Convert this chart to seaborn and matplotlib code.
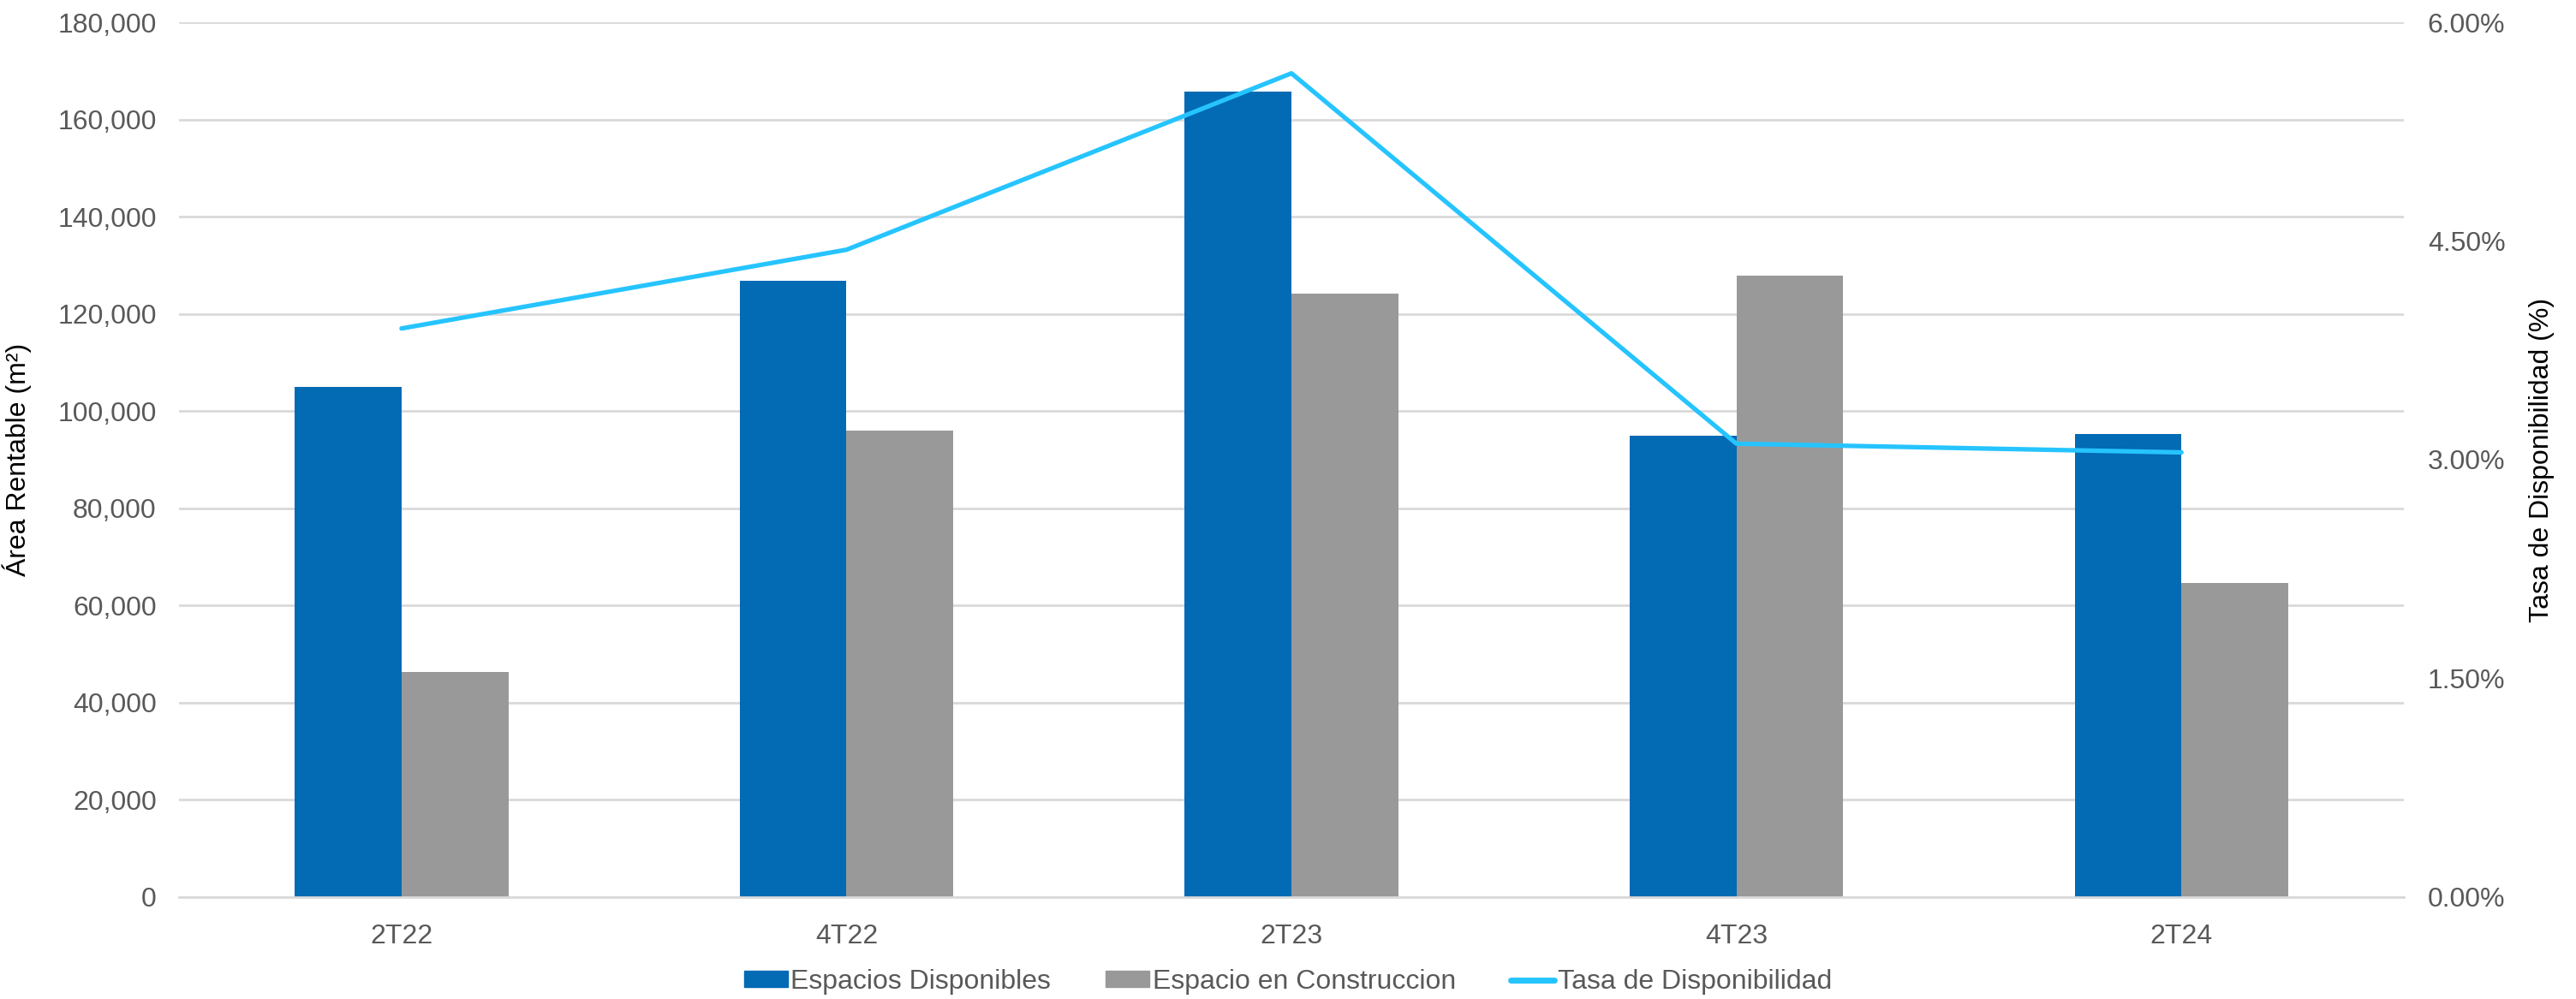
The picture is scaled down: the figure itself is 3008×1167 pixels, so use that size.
import numpy as np
import pandas as pd
import seaborn as sns
import matplotlib.pyplot as plt
from matplotlib.ticker import FuncFormatter
from matplotlib.lines import Line2D
from matplotlib.patches import Patch

# ===============================
# DATA
# ===============================
periods = ["2T22", "4T22", "2T23", "4T23", "2T24"]
disponibles = [105000, 126800, 165800, 94900, 95300]
construccion = [46300, 96000, 124100, 127900, 64600]
tasa = [3.90, 4.44, 5.65, 3.11, 3.05]  # %

series_names = ["Espacios Disponibles", "Espacio en Construccion"]
line_name = "Tasa de Disponibilidad"

df = pd.DataFrame({
    "periodo": periods * 2,
    "serie": [series_names[0]] * len(periods) + [series_names[1]] * len(periods),
    "area": disponibles + construccion,
})

blue = "#036AB4"
gray = "#999999"
cyan = "#26C4FF"
text_gray = "#595959"

# ===============================
# PLOT
# ===============================
sns.set_style("white")
plt.rcParams["font.family"] = ["Liberation Sans", "DejaVu Sans"]

fig = plt.figure(figsize=(30.08, 11.67), dpi=100)
ax = fig.add_axes([0.0695, 0.102, 0.8637, 0.8757])

sns.barplot(data=df, x="periodo", y="area", hue="serie", order=periods,
            hue_order=series_names, palette=[blue, gray], width=0.48,
            saturation=1, edgecolor="none", legend=False, ax=ax)

ax.set_ylim(0, 180000)
ax.set_yticks(np.arange(0, 180001, 20000))
ax.yaxis.set_major_formatter(FuncFormatter(lambda v, p: f"{int(v):,}"))
ax.set_xlim(-0.5, len(periods) - 0.5)
ax.grid(axis="y", color="#D9D9D9", linewidth=2)
ax.set_axisbelow(True)
for s in ["top", "right", "left"]:
    ax.spines[s].set_visible(False)
ax.spines["bottom"].set_color("#D9D9D9")
ax.spines["bottom"].set_linewidth(2)
ax.tick_params(axis="both", length=0, labelsize=23, colors=text_gray)
ax.tick_params(axis="x", pad=22)
ax.tick_params(axis="y", pad=19)
ax.set_xlabel("")
ax.set_ylabel("Área Rentable (m²)", fontsize=23, color="black")
ax.yaxis.set_label_coords(-0.0662, 0.5)

ax2 = ax.twinx()
sns.lineplot(x=np.arange(len(periods)), y=tasa, color=cyan, linewidth=3.8,
             ax=ax2, solid_capstyle="round")
ax2.set_ylim(0, 6)
ax2.set_yticks(np.arange(0, 6.01, 1.5))
ax2.yaxis.set_major_formatter(FuncFormatter(lambda v, p: f"{v:.2f}%"))
for s in ax2.spines.values():
    s.set_visible(False)
ax2.tick_params(axis="y", length=0, labelsize=23, colors=text_gray, pad=20)
ax2.set_ylabel("Tasa de Disponibilidad (%)", fontsize=23, color="black")
ax2.yaxis.set_label_coords(1.0562, 0.5)
ax2.grid(False)

handles = [Patch(color=blue), Patch(color=gray),
           Line2D([0], [0], color=cyan, linewidth=5)]
labels = series_names + [line_name]
fig.legend(handles, labels, loc="center", bbox_to_anchor=(0.5, 0.017), ncol=3,
           frameon=False, fontsize=23, labelcolor=text_gray, handlelength=1.6,
           handleheight=0.55, handletextpad=0.12, columnspacing=2.0)

plt.savefig("out.png", dpi=100)
